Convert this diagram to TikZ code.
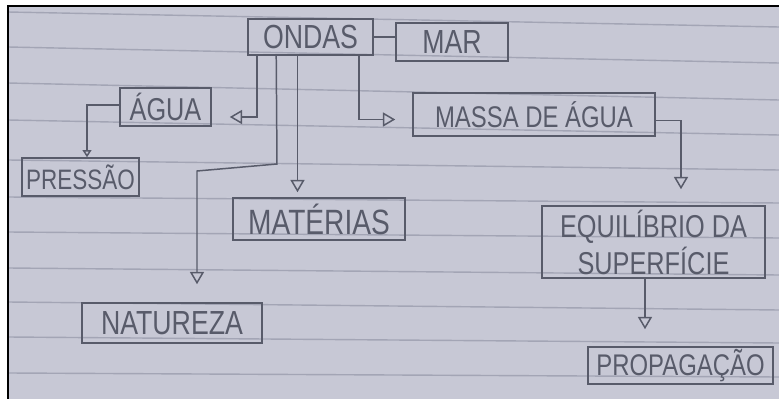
\documentclass[tikz,border=0pt]{standalone}
\usepackage{fontspec}
\usetikzlibrary{arrows.meta, positioning, calc}
\newfontfamily\hand[FakeStretch=0.8]{Liberation Sans}
\definecolor{paper}{RGB}{199,200,213}
\definecolor{rule-line}{RGB}{163,165,181}
\definecolor{pencil}{RGB}{88,91,106}

\begin{document}
\begin{tikzpicture}[
  x=0.02cm, y=-0.02cm,
  word/.style={draw=pencil, line width=0.9pt, inner sep=0pt, align=center,
               text=pencil},
  pencil/.style={draw=pencil, line width=0.85pt},
  link/.style={pencil, -{Triangle[open, length=7pt, width=8pt]}},
  smalllink/.style={pencil, -{Triangle[open, length=4pt, width=5pt]}},
  rule/.style={draw=rule-line, line width=0.8pt},
]
\useasboundingbox (0,0) rectangle (779,399);
\fill[white] (0,0) rectangle (779,399);
\fill[paper] (8,6) rectangle (779,399);
\foreach \l/\r in {12/27, 47/63, 83/100, 120/135, 160/170, 197/203,
                   232/238, 268/275, 302/310, 337/343, 373/377}
  \draw[rule] (8,\l) -- (779,\r);
\draw[black, line width=1.6pt] (8,399) -- (8,6) -- (779,6);

\node[word, minimum width=2.5cm,  minimum height=0.72cm, font=\hand\fontsize{19}{21}\selectfont]
  (ondas)    at (310.5,37)  {ONDAS};
\node[word, minimum width=2.24cm, minimum height=0.76cm, font=\hand\fontsize{19}{21}\selectfont]
  (mar)      at (452,42)    {MAR};
\node[word, minimum width=1.82cm, minimum height=0.76cm, font=\hand\fontsize{18}{20}\selectfont]
  (agua)     at (165.5,107) {ÁGUA};
\node[word, minimum width=2.34cm, minimum height=0.76cm, font=\hand\fontsize{16}{18}\selectfont]
  (pressao)  at (80.5,177)  {PRESSÃO};
\node[word, minimum width=3.44cm, minimum height=0.84cm, font=\hand\fontsize{20}{22}\selectfont]
  (materias) at (319,219)   {MATÉRIAS};
\node[word, minimum width=3.6cm,  minimum height=0.8cm,  font=\hand\fontsize{19}{21}\selectfont]
  (natureza) at (172,323)   {NATUREZA};
\node[word, minimum width=4.84cm, minimum height=0.86cm, font=\hand\fontsize{17}{19}\selectfont]
  (massa)    at (534,114.5) {MASSA DE ÁGUA};
\node[word, minimum width=4.46cm, minimum height=1.44cm, font=\hand\fontsize{18}{21}\selectfont]
  (equil)    at (653.5,242) {EQUILÍBRIO DA\\SUPERFÍCIE};
\node[word, minimum width=3.7cm,  minimum height=0.74cm, font=\hand\fontsize{17}{19}\selectfont]
  (propag)   at (680.5,365.5) {PROPAGAÇÃO};

\coordinate (n1) at (277,164);
\coordinate (n2) at (197,171);
\coordinate (m0) at ($(ondas.south)+(-13,0)$);
\coordinate (e0) at ($(equil.south)+(-8.5,0)$);

\draw[pencil] (ondas.east) -- (ondas.east -| mar.west);
\draw[link, shorten >=0.36cm] ($(ondas.south west)+(10,0)$) |- ($(agua.east)+(0,10)$);
\draw[smalllink] ($(agua.west)+(0,-2)$) -| ($(pressao.north)+(6.5,0)$);
\draw[link, shorten >=0.36cm] ($(ondas.south west)+(29,0)$) -- (n1) -- (n2) -- (n2 |- natureza.north);
\draw[link, shorten >=0.1cm] (m0) -- (m0 |- materias.north);
\draw[link, shorten >=0.34cm] ($(ondas.south east)+(-15,0)$) |- ($(massa.west)+(0,5)$);
\draw[link, shorten >=0.32cm] ($(massa.east)+(0,6)$) -| ($(equil.north)+(27.5,0)$);
\draw[link, shorten >=0.34cm] (e0) -- (e0 |- propag.north);
\end{tikzpicture}
\end{document}
